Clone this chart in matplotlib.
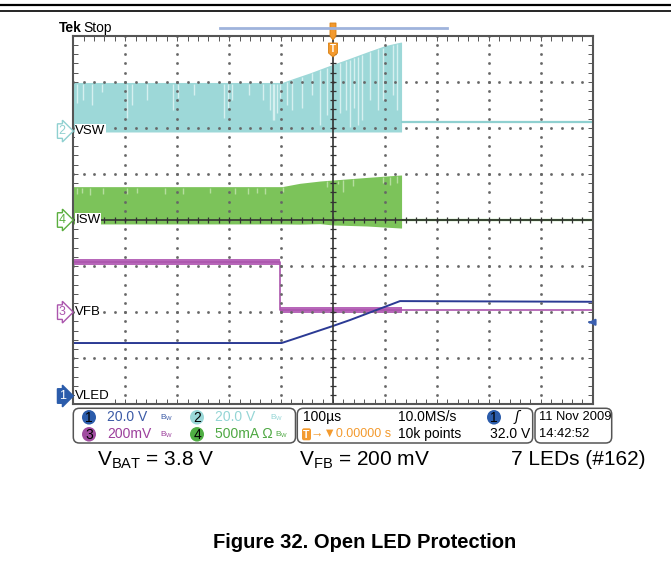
import numpy as np
import matplotlib
matplotlib.use("Agg")
import matplotlib.pyplot as plt
from matplotlib.patches import FancyBboxPatch, Ellipse, Polygon

# ---- scope settings ----
t_min, t_max = -500, 500          # us, 100 us/div
ch1_scale, ch2_scale, ch3_scale, ch4_scale = 20.0, 20.0, 200.0, 500.0   # V, V, mV, mA per div
ch1_off, ch2_off, ch3_off, ch4_off = -3.82, 1.93, -2.0, 0.0            # ground position (div)
trig_level = 32.0

# ---- VSW (ch2), volts ----
vsw_t = [-500, -98, -74, -44, -6, 30, 65, 100, 130, 132]
vsw_top = [21.1, 21.1, 23.0, 25.3, 28.5, 31.4, 34.3, 37.1, 38.6, 38.6]
vsw_bot = -0.4
vsw_after = 3.8
vsw_drop_t = [-493, -481, -464, -445, -397, -387, -358, -308, -298, -268, -210, -202,
              -194, -162, -135, -121, -116, -114, -108, -102, -89, -79, -60, -40, -25,
              -12, 13, 25, 33, 40, 48, 56, 71, 87, 96, 116, 123]
vsw_drop_v = [12.2, 13.5, 11.3, 16.9, 5.6, 11.3, 13.5, 9.1, 14.3, 15.6, 5.6, 10.0,
              13.5, 15.6, 13.5, 9.1, 4.8, 4.8, 7.8, 14.3, 11.3, 9.1, 10.0, 15.6, 2.6,
              6.9, 7.8, 9.1, 1.7, 10.0, 2.6, 4.8, 13.5, 9.1, 13.5, 15.6, 9.1]

# ---- ISW (ch4), mA ----
isw_t = [-500, -98, -64, -25, 0, 65, 130, 132]
isw_top = [362, 362, 398, 423, 434, 462, 488, 488]
isw_bot = [-43, -43, -45, -40, -54, -65, -87, -87]
isw_after = 0
isw_drop_t = [-493, -483, -468, -443, -397, -377, -324, -289, -237, -189, -164, -146,
              -131, -96, -12, 10, 19, 39, 96, 110, 123]
isw_drop_v = [280, 290, 275, 285, 280, 290, 280, 285, 290, 280, 285, 290,
              280, 300, 358, 390, 304, 369, 401, 380, 401]

# ---- VFB (ch3), mV ----
vfb_t = [-500, -102, -102, 132, 132, 500]
vfb_v = [218, 218, 9, 9, 9, 9]
vfb_noise = [14, 14, 12, 12, 0, 0]

# ---- VLED (ch1), volts ----
vled_t = [-500, -99, -76, 0, 33, 129, 500]
vled_v = [23.0, 23.0, 24.7, 30.4, 33.0, 41.2, 40.9]

c_cyan = "#9dd8d8"
c_cyan_lt = "#d6f0f0"
c_green = "#7cc35a"
c_green_lt = "#b5de9f"
c_mag = "#ab55ad"
c_mag_band = "#b767b9"
c_navy = "#2b3a94"
c_grid = "#555555"
c_orange = "#f39a2e"

fig = plt.figure(figsize=(6.71, 5.67), dpi=100)
W, H = 671, 567

ax = fig.add_axes([73.3 / W, 1 - 404.3 / H, (592.7 - 73.3) / W, (404.3 - 35.7) / H])
ax.set_xlim(t_min, t_max)
ax.set_ylim(-4, 4)

# ---- traces ----
ft = np.linspace(-500, 132, 1200)
top2 = np.interp(ft, vsw_t, vsw_top)
ax.fill_between(ft, ch2_off + vsw_bot / ch2_scale, ch2_off + top2 / ch2_scale,
                color=c_cyan, lw=0, zorder=2)
ax.vlines(vsw_drop_t, ch2_off + np.array(vsw_drop_v) / ch2_scale,
          ch2_off + np.interp(vsw_drop_t, vsw_t, vsw_top) / ch2_scale - 0.03,
          color=c_cyan_lt, lw=1, zorder=2)
ax.plot([132, 500], [ch2_off + vsw_after / ch2_scale] * 2, color="#8fd0d0", lw=1.6, zorder=2)

top4 = np.interp(ft, isw_t, isw_top)
bot4 = np.interp(ft, isw_t, isw_bot)
ax.fill_between(ft, ch4_off + bot4 / ch4_scale, ch4_off + top4 / ch4_scale,
                color=c_green, lw=0, zorder=2)
ax.vlines(isw_drop_t, ch4_off + np.array(isw_drop_v) / ch4_scale,
          ch4_off + np.interp(isw_drop_t, isw_t, isw_top) / ch4_scale - 0.02,
          color=c_green_lt, lw=1, zorder=2)
ax.plot([132, 500], [ch4_off + isw_after / ch4_scale] * 2, color="#5aae3e", lw=1.6, zorder=2)

vfb_c = ch3_off + np.array(vfb_v) / ch3_scale
vfb_n = np.array(vfb_noise) / ch3_scale
ax.fill_between(vfb_t, vfb_c - vfb_n, vfb_c + vfb_n, color=c_mag_band, lw=0, zorder=3)
ax.plot(vfb_t, vfb_c, color=c_mag, lw=1.2, zorder=3)

ax.plot(vled_t, ch1_off + np.array(vled_v) / ch1_scale, color=c_navy, lw=1.4, zorder=4)

# ---- graticule ----
minor_x = np.arange(t_min, t_max + 1, 20)
minor_y = np.arange(-4, 4.001, 0.2)
for s in ax.spines.values():
    s.set_color(c_grid)
    s.set_linewidth(1.5)
    s.set_zorder(6)
ax.set_xticks(minor_x)
ax.set_yticks(minor_y)
ax.tick_params(direction="in", length=3.5, width=0.7, color=c_grid, top=True, right=True,
               labelbottom=False, labelleft=False)
for gx in [-400, -300, -200, -100, 100, 200, 300, 400]:
    ax.plot([gx] * len(minor_y), minor_y, ls="none", marker="s", ms=0.9, color="#666", zorder=5)
for gy in [-3, -2, -1, 1, 2, 3]:
    ax.plot(minor_x, [gy] * len(minor_x), ls="none", marker="s", ms=0.9, color="#666", zorder=5)
ax.axvline(0, color="#333", lw=1.2, zorder=5)
ax.axhline(0, color="#333", lw=1.2, zorder=5)
ax.plot(minor_x, np.zeros_like(minor_x), ls="none", marker="|", ms=4, mew=0.9, color="#333", zorder=5)
ax.plot(np.zeros_like(minor_y), minor_y, ls="none", marker="_", ms=4, mew=0.9, color="#333", zorder=5)

# channel labels and markers
scope_font = ["Liberation Sans", "DejaVu Sans"]
labels = [("VSW", ch2_off, "2", "#8fd0d0", "white", "#8fd0d0"),
          ("ISW", ch4_off, "4", "#5aae3e", "white", "#5aae3e"),
          ("VFB", ch3_off, "3", c_mag, "white", c_mag),
          ("VLED", ch1_off, "1", "#2b5cab", "#2b5cab", "white")]
for name, off, num, ec, fc, tc in labels:
    ax.text(-496, off, name, fontsize=9.5, family=scope_font, va="center", ha="left",
            zorder=7, bbox=dict(boxstyle="square,pad=0.05", fc="white", ec="none"))
    ax.annotate(num, xy=(-500, off), xytext=(-8, 0), textcoords="offset points",
                ha="center", va="center", fontsize=9, family=scope_font, color=tc,
                annotation_clip=False, zorder=7,
                bbox=dict(boxstyle="rarrow,pad=0.1", fc=fc, ec=ec, lw=1))

# trigger level arrow
ty = ch1_off + trig_level / ch1_scale
ax.annotate("", xy=(486, ty), xytext=(500, ty), zorder=7,
            arrowprops=dict(arrowstyle="-|>", color="#3b5fb0", lw=1.5, mutation_scale=9))

# ---- overlay: header, status panel, captions ----
ov = fig.add_axes([0, 0, 1, 1], zorder=10)
ov.set_xlim(0, W)
ov.set_ylim(H, 0)
ov.axis("off")

ov.plot([0, W], [5.3, 5.3], color="black", lw=1.6)
ov.plot([0, W], [11.2, 11.2], color="black", lw=1.2)
ov.text(59, 32, "Tek", fontsize=10, weight="bold", family=scope_font, va="baseline")
ov.text(83, 32, "Stop", fontsize=10, family=scope_font, va="baseline")
ov.plot([220, 447], [27.5, 27.5], color="#9fb3dc", lw=2)
ov.add_patch(Polygon([[330, 23], [336, 23], [336, 36], [333, 40], [330, 36]], closed=True,
                     fc=c_orange, ec="#d87f10", lw=0.6))
ov.add_patch(Polygon([[328.5, 43], [337.5, 43], [337.5, 53], [333, 57], [328.5, 53]], closed=True,
                     fc=c_orange, ec="#d87f10", lw=0.6))
ov.text(333, 48.5, "T", color="white", fontsize=7, weight="bold", ha="center", va="center",
        family=scope_font)

for x0, x1 in [(73.3, 295.5), (297.3, 532.7), (535, 611.7)]:
    ov.add_patch(FancyBboxPatch((x0, 408.3), x1 - x0, 34.7,
                                boxstyle="round,pad=0,rounding_size=6",
                                fc="white", ec="#555", lw=1.1))

r1, r2 = 417.3, 434.3
fs = 10
chans = [(89, r1, "1", "#2b5cab", "20.0 V", "#3b5aa6", "", 160),
         (197, r1, "2", "#9ad8d8", "20.0 V", "#94d5d5", "", 270),
         (89, r2, "3", "#a04ca0", "200mV", "#9c3f9c", "", 160),
         (197, r2, "4", "#4fae43", "500mA", "#4ea843", " \u03a9", 275)]
for cx, cy, num, cc, txt, tc, extra, bx in chans:
    ov.add_patch(Ellipse((cx, cy), 14, 14.5, fc=cc, ec="none"))
    ov.text(cx, cy + 0.5, num, fontsize=fs, family=scope_font, ha="center", va="center", color="black")
    ov.text(cx + 18, cy, txt + extra, fontsize=fs, family=scope_font, ha="left", va="center", color=tc)
    ov.text(bx, cy, r"B$_\mathregular{W}$", fontsize=6, family=scope_font, ha="left", va="center", color=tc)

ov.text(303, r1, "100\u00b5s", fontsize=fs, family=scope_font, va="center")
ov.text(398, r1, "10.0MS/s", fontsize=fs, family=scope_font, va="center")
ov.add_patch(Ellipse((494, r1), 14, 14.5, fc="#2b5cab", ec="none"))
ov.text(494, r1 + 0.5, "1", fontsize=fs, family=scope_font, ha="center", va="center")
ov.text(515, r1, "\u0283", fontsize=fs, family="DejaVu Sans", va="center", style="italic")
ov.add_patch(FancyBboxPatch((302, r2 - 6), 9, 12, boxstyle="round,pad=0,rounding_size=2",
                            fc=c_orange, ec="none"))
ov.text(306.5, r2 + 0.5, "T", color="white", fontsize=7.5, weight="bold", family=scope_font,
        ha="center", va="center")
ov.text(311, r2, "\u2192\u25bc0.00000 s", fontsize=9, family=scope_font,
        va="center", color=c_orange)
ov.text(398, r2, "10k points", fontsize=fs, family=scope_font, va="center")
ov.text(530, r2, "32.0 V", fontsize=fs, family=scope_font, va="center", ha="right")
ov.text(539, r1, "11 Nov 2009", fontsize=9.3, family=scope_font, va="center")
ov.text(539, r2, "14:42:52", fontsize=9.3, family=scope_font, va="center")

cap_font = "Liberation Sans"
ov.text(97, 465, r"V$_\mathregular{BAT}$ = 3.8 V", fontsize=15, family=cap_font, va="baseline")
ov.text(299, 465, r"V$_\mathregular{FB}$ = 200 mV", fontsize=15, family=cap_font, va="baseline")
ov.text(511, 465, "7 LEDs (#162)", fontsize=15, family=cap_font, va="baseline")
ov.text(365, 542, "Figure 32. Open LED Protection", fontsize=14.5, weight="bold",
        family=cap_font, ha="center", va="center")

fig.savefig("out.png", dpi=100)
